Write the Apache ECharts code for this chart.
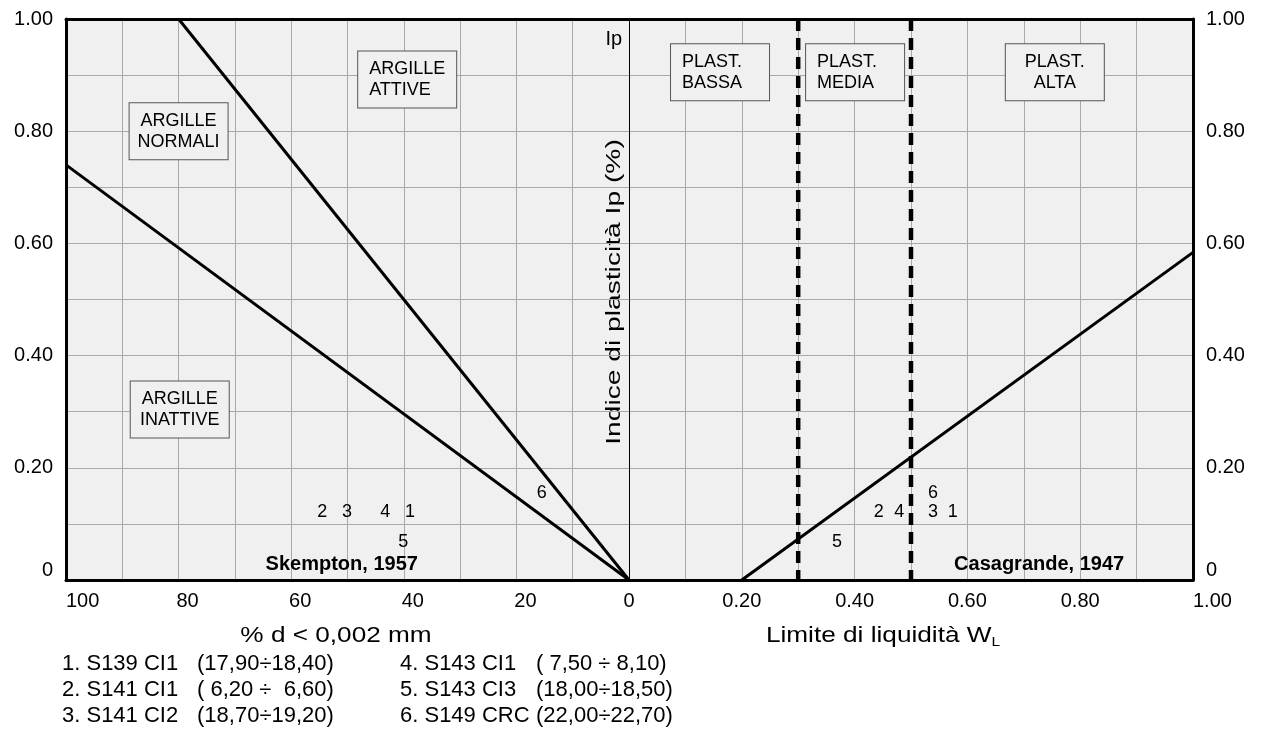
<!DOCTYPE html>
<html>
<head>
<meta charset="utf-8">
<script src="https://cdn.jsdelivr.net/npm/echarts@6/dist/echarts.min.js"></script>
<style>
  html, body { margin: 0; padding: 0; background: #fff; }
  #chart { width: 1262px; height: 751px; }
</style>
</head>
<body>
<div id="chart"></div>
<script>
// Sample identifiers and their measured values
const sampleIds = ['1', '2', '3', '4', '5', '6'];
const clayFraction = [38.9, 54.5, 50.1, 43.3, 40.1, 15.5];        // % d < 0,002 mm
const liquidLimit = [0.574, 0.443, 0.539, 0.479, 0.369, 0.539];   // WL
const plasticityIndex = [0.122, 0.122, 0.122, 0.122, 0.067, 0.155]; // Ip

// Sample descriptions (name, depth range)
const sampleNames = ['S139 CI1', 'S141 CI1', 'S141 CI2', 'S143 CI1', 'S143 CI3', 'S149 CRC'];
const sampleDepths = ['(17,90÷18,40)', '( 6,20 ÷  6,60)', '(18,70÷19,20)', '( 7,50 ÷ 8,10)', '(18,00÷18,50)', '(22,00÷22,70)'];

// Skempton (1957) activity lines: [clay %, Ip]
const skemptonActive = [[0, 0], [80, 1.0]];
const skemptonInactive = [[0, 0], [100, 0.74]];
// Casagrande (1947) A-line: [WL, Ip]
const casagrandeALine = [[0.20, 0], [1.00, 0.584]];
// Plasticity class boundaries on WL
const plasticityBounds = [0.30, 0.50];

// Tick labels
const clayTicks = [100, 80, 60, 40, 20, 0];
const wlTicks = [0.2, 0.4, 0.6, 0.8, 1.0];
const ipTicks = [0, 0.2, 0.4, 0.6, 0.8, 1.0];

const FONT = "'Liberation Sans', Arial, Helvetica, sans-serif";
const GRIDC = '#a9a9a9';
const BG = '#f0f0f0';

const near = (v, list) => list.some(t => Math.abs(t - v) < 1e-6);
const ipFmt = v => near(v, ipTicks) ? (Math.abs(v) < 1e-9 ? '0' : v.toFixed(2)) : '';
// Inner clay labels sit slightly right of their grid line
const clayFmt = v => {
  if (!near(v, clayTicks)) return '';
  return (v === 0 || v === 100) ? String(v) : '{m|' + v + '}';
};

// Zone boxes and captions, anchored in each panel's data space
const boxStyle = {
  backgroundColor: BG, borderColor: '#555', borderWidth: 1,
  padding: [7, 11, 7, 11], width: 76, height: 42, lineHeight: 21,
  fontSize: 18, color: '#000', fontFamily: FONT, opacity: 1
};
const leftNotes = [
  { value: [80, 0.80], text: 'ARGILLE\nNORMALI', box: true, align: 'center' },
  { value: [48.1, 0.892], text: 'ARGILLE\nATTIVE', box: true, align: 'left' },
  { value: [79.8, 0.304], text: 'ARGILLE\nINATTIVE', box: true, align: 'center' },
  { value: [37.5, 0.027], text: 'Skempton, 1957', bold: true, align: 'right' },
  { value: [2.7, 0.963], text: 'Ip', size: 20, align: 'center' }
];
const rightNotes = [
  { value: [0.0745, 0.905], text: 'PLAST.\nBASSA', box: true, align: 'left' },
  { value: [0.314, 0.905], text: 'PLAST.\nMEDIA', box: true, align: 'left' },
  { value: [0.755, 0.905], text: 'PLAST.\nALTA', box: true, align: 'center' },
  { value: [0.878, 0.027], text: 'Casagrande, 1947', bold: true, align: 'right' }
];

function noteItems(list) {
  return list.map(n => {
    const label = n.box
      ? Object.assign({}, boxStyle, { show: true, position: 'inside', align: n.align, formatter: n.text })
      : {
          show: true, position: 'inside', align: n.align, formatter: n.text,
          fontSize: n.size || (n.bold ? 20 : 18), fontWeight: n.bold ? 'bold' : 'normal',
          color: '#000', fontFamily: FONT, opacity: 1
        };
    return { value: n.value, label: label };
  });
}

const lineSeries = (data, xi, yi, style) => ({
  type: 'line', xAxisIndex: xi, yAxisIndex: yi, data: data,
  symbol: 'none', silent: true, z: 3,
  lineStyle: Object.assign({ color: '#000', width: 3 }, style || {})
});

const sampleLabel = {
  show: true, position: 'inside', fontSize: 18, color: '#000', fontFamily: FONT, opacity: 1,
  formatter: p => p.data[2]
};

const textSeries = (xi, yi, data, label) => ({
  type: 'scatter', xAxisIndex: xi, yAxisIndex: yi, symbolSize: 0, silent: true, z: 6,
  itemStyle: { opacity: 1 }, data: data, label: label
});

// Titles and sample key, placed in the page layout
const titleStyle = { fontFamily: FONT, fill: '#000', textAlign: 'center', textVerticalAlign: 'middle' };
const graphics = [
  { type: 'text', x: 336, y: 636, scaleX: 1.19, scaleY: 1,
    style: Object.assign({ text: '% d < 0,002 mm', fontSize: 22 }, titleStyle) },
  { type: 'text', x: 883, y: 636, scaleX: 1.19, scaleY: 1,
    style: Object.assign({
      text: '{a|Limite di liquidità W}{s|L}', fontSize: 22,
      rich: {
        a: { fontSize: 22, fontFamily: FONT, fill: '#000', lineHeight: 26 },
        s: { fontSize: 13, fontFamily: FONT, fill: '#000', lineHeight: 26, verticalAlign: 'bottom', padding: [9, 0, 0, 0] }
      }
    }, titleStyle) },
  { type: 'text', x: 614, y: 292, rotation: Math.PI / 2, scaleX: 1.41, scaleY: 1,
    style: Object.assign({ text: 'Indice di plasticità Ip (%)', fontSize: 20 }, titleStyle) }
];
sampleNames.forEach((name, i) => {
  const col = i < 3 ? 0 : 1;
  const y = 664 + 26 * (i % 3);
  const st = { fontSize: 22, fontFamily: FONT, fill: '#000', textVerticalAlign: 'middle' };
  graphics.push(
    { type: 'text', x: [62, 400][col], y: y, style: Object.assign({ text: sampleIds[i] + '. ' + name }, st) },
    { type: 'text', x: [197, 536][col], y: y, style: Object.assign({ text: sampleDepths[i] }, st) }
  );
});

const option = {
  backgroundColor: '#fff',
  animation: false,
  textStyle: { fontFamily: FONT, color: '#000' },
  grid: [
    { left: 66, top: 19, width: 563, height: 561, show: true, backgroundColor: BG, borderWidth: 0 },
    { left: 629, top: 19, width: 564, height: 561, show: true, backgroundColor: BG, borderWidth: 0 }
  ],
  xAxis: [
    {
      gridIndex: 0, type: 'value', min: 0, max: 100, interval: 10, inverse: true, position: 'bottom',
      axisLine: { onZero: false, lineStyle: { color: '#000', width: 3 } },
      axisTick: { show: false },
      splitLine: { lineStyle: { color: GRIDC, width: 1 } },
      axisLabel: {
        fontSize: 20, color: '#000', margin: 11, fontFamily: FONT,
        alignMaxLabel: 'left',
        formatter: clayFmt,
        rich: { m: { fontSize: 20, color: '#000', fontFamily: FONT, padding: [0, 0, 0, 18] } }
      }
    },
    {
      gridIndex: 0, type: 'value', min: 0, max: 100, inverse: true, position: 'top',
      axisLine: { onZero: false, lineStyle: { color: '#000', width: 3 } },
      axisTick: { show: false }, axisLabel: { show: false }, splitLine: { show: false }
    },
    {
      gridIndex: 1, type: 'value', min: 0, max: 1, interval: 0.1, position: 'bottom',
      axisLine: { onZero: false, lineStyle: { color: '#000', width: 3 } },
      axisTick: { show: false },
      splitLine: { lineStyle: { color: GRIDC, width: 1 } },
      axisLabel: {
        fontSize: 20, color: '#000', margin: 11, fontFamily: FONT,
        alignMaxLabel: 'left',
        formatter: v => near(v, wlTicks) ? v.toFixed(2) : ''
      }
    },
    {
      gridIndex: 1, type: 'value', min: 0, max: 1, position: 'top',
      axisLine: { onZero: false, lineStyle: { color: '#000', width: 3 } },
      axisTick: { show: false }, axisLabel: { show: false }, splitLine: { show: false }
    }
  ],
  yAxis: [
    {
      gridIndex: 0, type: 'value', min: 0, max: 1, interval: 0.1, position: 'left',
      axisLine: { onZero: false, lineStyle: { color: '#000', width: 3 } },
      axisTick: { show: false },
      splitLine: { lineStyle: { color: GRIDC, width: 1 } },
      axisLabel: {
        fontSize: 20, color: '#000', margin: 13, fontFamily: FONT,
        verticalAlignMinLabel: 'bottom',
        formatter: ipFmt
      }
    },
    {
      gridIndex: 1, type: 'value', min: 0, max: 1, interval: 0.1, position: 'left',
      axisLine: { onZero: false, lineStyle: { color: '#000', width: 1 } },
      axisTick: { show: false }, axisLabel: { show: false },
      splitLine: { lineStyle: { color: GRIDC, width: 1 } }
    },
    {
      gridIndex: 1, type: 'value', min: 0, max: 1, interval: 0.1, position: 'right',
      axisLine: { onZero: false, lineStyle: { color: '#000', width: 3 } },
      axisTick: { show: false }, splitLine: { show: false },
      axisLabel: {
        fontSize: 20, color: '#000', margin: 13, fontFamily: FONT,
        verticalAlignMinLabel: 'bottom',
        formatter: ipFmt
      }
    }
  ],
  series: [
    lineSeries(skemptonActive, 0, 0),
    lineSeries(skemptonInactive, 0, 0),
    lineSeries(casagrandeALine, 2, 1),
    ...plasticityBounds.map(b => lineSeries([[b, 1], [b, 0]], 2, 1, { width: 4.5, type: [12, 7] })),
    textSeries(0, 0, sampleIds.map((id, i) => [clayFraction[i], plasticityIndex[i], id]), sampleLabel),
    textSeries(2, 1, sampleIds.map((id, i) => [liquidLimit[i], plasticityIndex[i], id]), sampleLabel),
    textSeries(0, 0, noteItems(leftNotes)),
    textSeries(2, 1, noteItems(rightNotes))
  ],
  graphic: graphics
};

const chart = echarts.init(document.getElementById('chart'), null, { renderer: 'canvas' });
chart.setOption(option);
</script>
</body>
</html>
